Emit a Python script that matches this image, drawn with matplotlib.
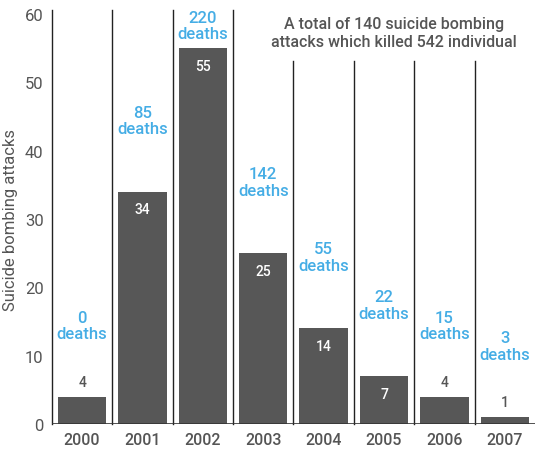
import matplotlib
matplotlib.use("Agg")
import matplotlib.pyplot as plt

years = ["2000", "2001", "2002", "2003", "2004", "2005", "2006", "2007"]
attacks = [4, 34, 55, 25, 14, 7, 4, 1]
deaths = [0, 85, 220, 142, 55, 22, 15, 3]
yticks = [0, 10, 20, 30, 40, 50, 60]
note = "A total of 140 suicide bombing\nattacks which killed 542 individual"

plt.rcParams['font.family'] = ['Roboto', 'DejaVu Sans']

fig = plt.figure(figsize=(5.35, 4.52), dpi=100)
ax = fig.add_axes([0.097, 0.06, 0.903, 0.907])

bar_color = "#575757"
blue = "#45ade5"
grey_txt = "#555555"

x = list(range(len(years)))
ax.bar(x, attacks, width=0.8, color=bar_color, zorder=2)

for i, (v, d) in enumerate(zip(attacks, deaths)):
    if v >= 7:
        ax.text(i, v - 2.6, str(v), ha="center", va="center", color="white",
                fontsize=10, fontweight="medium")
    else:
        ax.text(i, v + 2.2, str(v), ha="center", va="center", color=grey_txt,
                fontsize=10, fontweight="medium")
    ly = min(v + 10.4, 58.3)
    ax.text(i, ly, f"{d}\ndeaths", ha="center", va="center", color=blue,
            fontsize=12, fontweight="medium", linespacing=1.15)

# separators
for b in range(len(years)):
    xb = b - 0.5
    top = 60.6 if b <= 3 else 53.1
    ax.plot([xb, xb], [0, top], color="#222222", lw=1.0, clip_on=False, zorder=1)

ax.axhline(0, color="#333333", lw=1.2, zorder=3)

ax.text(5.17, 57.3, note, ha="center", va="center", color=grey_txt,
        fontsize=11.5, fontweight="medium", linespacing=1.25)

ax.set_xlim(-0.5, 7.5)
ax.set_ylim(0, 60)
ax.set_xticks(x)
ax.set_xticklabels(years, fontsize=11.5, color=grey_txt, fontweight="medium")
ax.set_yticks(yticks)
ax.set_yticklabels([str(t) for t in yticks], fontsize=12, color=grey_txt)
ax.tick_params(length=0, pad=6)
ax.tick_params(axis="x", pad=6)
for s in ax.spines.values():
    s.set_visible(False)
ax.set_ylabel("Suicide bombing attacks", fontsize=12, color=grey_txt, labelpad=5)

fig.savefig("out.png", dpi=100)
